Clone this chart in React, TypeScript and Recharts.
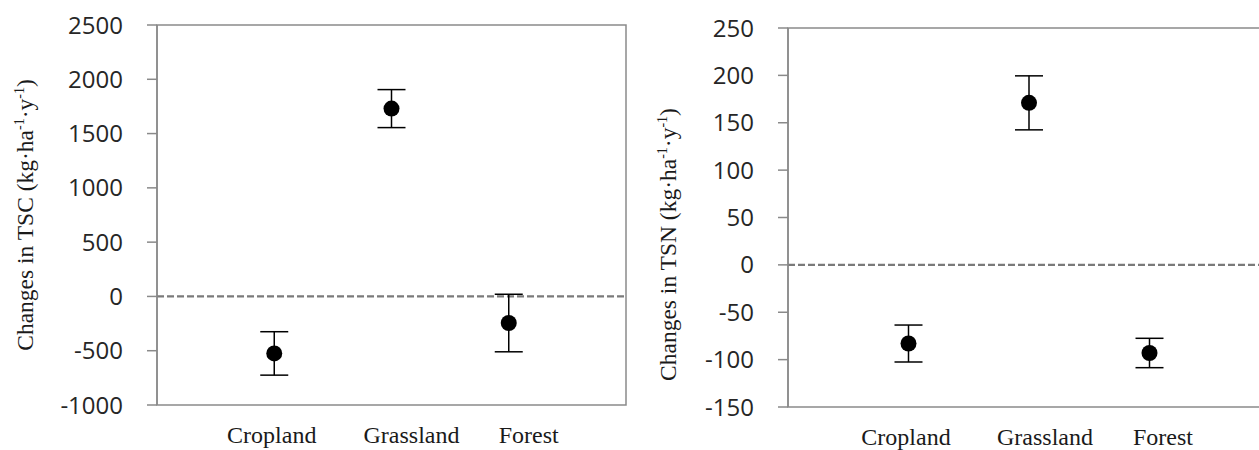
import React from 'react';
import {
  ScatterChart,
  Scatter,
  XAxis,
  YAxis,
  ErrorBar,
  ReferenceLine,
  ReferenceArea,
} from 'recharts';

// land-use categories, shared by both panels
const categories = ['Cropland', 'Grassland', 'Forest'];

// TSC changes (kg·ha-1·y-1) and their error
const tscMean = [-525, 1730, -245];
const tscErr = [200, 175, 265];
const tscTicks = [-1000, -500, 0, 500, 1000, 1500, 2000, 2500];

// TSN changes (kg·ha-1·y-1) and their error
const tsnMean = [-83, 171, -93];
const tsnErr = [19.5, 28.5, 15.5];
const tsnTicks = [-150, -100, -50, 0, 50, 100, 150, 200, 250];

const toRows = (mean: number[], err: number[]) =>
  categories.map((name, i) => ({ x: i + 1, y: mean[i], err: err[i], name }));

const AXIS_GREY = '#8a8a8a';
const TICK_FONT = '"Open Sans", sans-serif';
const SERIF = '"Liberation Serif", "Times New Roman", serif';

const Dot = (props: any) => <circle cx={props.cx} cy={props.cy} r={8} fill="#000" />;

// x labels sit a little off the points, as in the original
const makeXTick = (shift: number[]) => (props: any) => {
  const { x, y, payload } = props;
  const i = payload.value - 1;
  return (
    <text x={x + shift[i]} y={y + 38} textAnchor="middle" fontFamily={SERIF} fontSize={24} fill="#1a1a1a">
      {categories[i]}
    </text>
  );
};

const makeYTitle = (label: string, dx: number, dy: number) => (props: any) => {
  const vb = props.viewBox;
  const cx = vb.x + dx;
  const cy = vb.y + vb.height / 2 + dy;
  return (
    <text
      x={cx}
      y={cy}
      transform={`rotate(-90, ${cx}, ${cy})`}
      textAnchor="middle"
      fontFamily={SERIF}
      fontSize={23.5}
      fill="#1a1a1a"
    >
      {`Changes in ${label} (kg·ha`}
      <tspan fontSize={14} dy={-9}>-1</tspan>
      <tspan dy={9}>·y</tspan>
      <tspan fontSize={14} dy={-9}>-1</tspan>
      <tspan dy={9}>)</tspan>
    </text>
  );
};

type PanelProps = {
  rows: { x: number; y: number; err: number }[];
  ticks: number[];
  label: string;
  yWidth: number;
  margin: { top: number; right: number; bottom: number; left: number };
  xHeight: number;
  titleDx: number;
  titleDy: number;
  labelShift: number[];
};

const Panel = ({ rows, ticks, label, yWidth, margin, xHeight, titleDx, titleDy, labelShift }: PanelProps) => {
  const lo = ticks[0];
  const hi = ticks[ticks.length - 1];
  return (
    <ScatterChart width={640} height={450} margin={margin}>
      <ReferenceArea x1={0} x2={4} y1={lo} y2={hi} fill="none" stroke={AXIS_GREY} strokeWidth={1.5} />
      <XAxis
        type="number"
        dataKey="x"
        domain={[0, 4]}
        ticks={[1, 2, 3]}
        axisLine={false}
        tickLine={false}
        tickSize={0}
        tickMargin={0}
        height={xHeight}
        tick={makeXTick(labelShift)}
      />
      <YAxis
        type="number"
        dataKey="y"
        domain={[lo, hi]}
        ticks={ticks}
        width={yWidth}
        interval={0}
        axisLine={{ stroke: AXIS_GREY, strokeWidth: 1.5 }}
        tickLine={{ stroke: AXIS_GREY, strokeWidth: 1.5 }}
        tickSize={10}
        tickMargin={24}
        tick={{ fill: '#262626', fontFamily: TICK_FONT, fontSize: 24 }}
        label={{ content: makeYTitle(label, titleDx, titleDy) }}
      />
      <ReferenceLine y={0} stroke="#7a7a7a" strokeWidth={2.2} strokeDasharray="7 3" />
      <Scatter data={rows} shape={Dot} isAnimationActive={false}>
        <ErrorBar dataKey="err" direction="y" width={14} stroke="#000" strokeWidth={1.5} />
      </Scatter>
    </ScatterChart>
  );
};

export default function App() {
  return (
    <div
      style={{
        position: 'fixed',
        left: 0,
        top: 0,
        width: 1259,
        height: 450,
        overflow: 'hidden',
        background: '#fff',
      }}
    >
      <div style={{ position: 'absolute', left: 0, top: 0 }}>
        <Panel
          rows={toRows(tscMean, tscErr)}
          ticks={tscTicks}
          label="TSC"
          yWidth={157}
          margin={{ top: 25, right: 14, bottom: 0, left: 0 }}
          xHeight={45}
          titleDx={33}
          titleDy={0}
          labelShift={[-2.5, 20, 20]}
        />
      </div>
      <div style={{ position: 'absolute', left: 640, top: 0 }}>
        <Panel
          rows={toRows(tsnMean, tsnErr)}
          ticks={tsnTicks}
          label="TSN"
          yWidth={148}
          margin={{ top: 28, right: 10, bottom: 0, left: 0 }}
          xHeight={43}
          titleDx={36}
          titleDy={27}
          labelShift={[-2.5, 16, 13.5]}
        />
      </div>
    </div>
  );
}
